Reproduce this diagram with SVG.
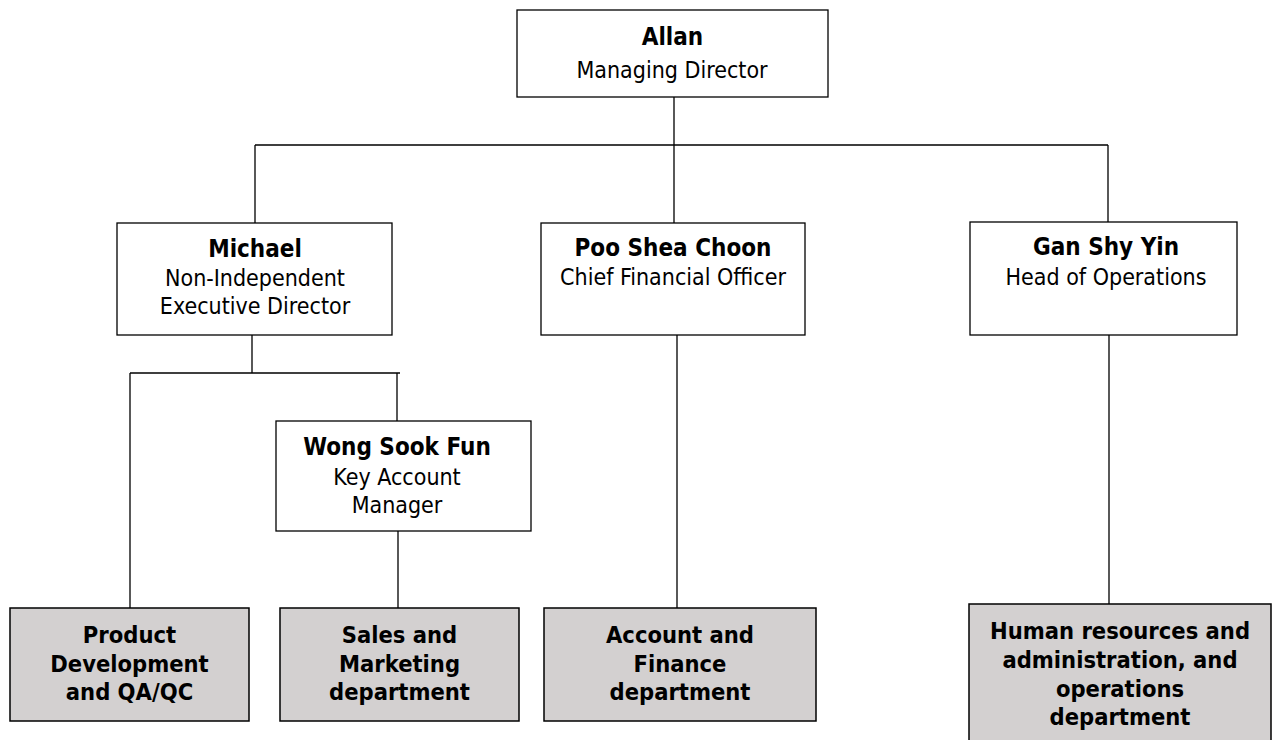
<svg xmlns="http://www.w3.org/2000/svg" width="1272" height="740" viewBox="0 0 1272 740">
<style>
.box{fill:#ffffff;stroke:#000000;stroke-width:1.3}
.dept{fill:#d3d0d0;stroke:#000000;stroke-width:1.5}
.t{font-family:"DejaVu Sans Condensed","DejaVu Sans",sans-serif;font-size:23px;fill:#000;text-anchor:middle}
.b{font-weight:bold;font-size:24px}
.d{font-weight:bold;font-size:23.5px}
.c{fill:none;stroke:#000;stroke-width:1.3}
</style>
<rect width="1272" height="740" fill="#ffffff"/>
<g id="connectors">
<path class="c" d="M674 97V145M255 145H1108M255 145V223M674 145V223M1108 145V222"/>
<path class="c" d="M252 335V373M130 373H400M130 373V608M397 373V421M398 531V608"/>
<path class="c" d="M677 335V608M1109 335V604"/>
</g>
<g id="allan">
<rect class="box" x="517" y="10" width="311" height="87"/>
<text class="t b" x="672.5" y="45">Allan</text>
<text class="t" x="672" y="78">Managing Director</text>
</g>
<g id="michael">
<rect class="box" x="117" y="223" width="275" height="112"/>
<text class="t b" x="255" y="257">Michael</text>
<text class="t" x="255" y="286">Non-Independent</text>
<text class="t" x="255" y="314">Executive Director</text>
</g>
<g id="poo">
<rect class="box" x="541" y="223" width="264" height="112"/>
<text class="t b" x="673" y="256">Poo Shea Choon</text>
<text class="t" x="673" y="285">Chief Financial Officer</text>
</g>
<g id="gan">
<rect class="box" x="970" y="222" width="267" height="113"/>
<text class="t b" x="1106" y="255">Gan Shy Yin</text>
<text class="t" x="1106" y="285">Head of Operations</text>
</g>
<g id="wong">
<rect class="box" x="276" y="421" width="255" height="110"/>
<text class="t b" x="397" y="455">Wong Sook Fun</text>
<text class="t" x="397" y="485">Key Account</text>
<text class="t" x="397" y="513">Manager</text>
</g>
<g id="product">
<rect class="dept" x="10" y="608" width="239" height="113"/>
<text class="t d" x="129.5" y="643">Product</text>
<text class="t d" x="129.5" y="672">Development</text>
<text class="t d" x="129.5" y="700">and QA/QC</text>
</g>
<g id="sales">
<rect class="dept" x="280" y="608" width="239" height="113"/>
<text class="t d" x="399.5" y="643">Sales and</text>
<text class="t d" x="399.5" y="672">Marketing</text>
<text class="t d" x="399.5" y="700">department</text>
</g>
<g id="account">
<rect class="dept" x="544" y="608" width="272" height="113"/>
<text class="t d" x="680" y="643">Account and</text>
<text class="t d" x="680" y="672">Finance</text>
<text class="t d" x="680" y="700">department</text>
</g>
<g id="hr">
<rect class="dept" x="969" y="604" width="302" height="145"/>
<text class="t d" x="1120" y="639">Human resources and</text>
<text class="t d" x="1120" y="668">administration, and</text>
<text class="t d" x="1120" y="697">operations</text>
<text class="t d" x="1120" y="725">department</text>
</g>
</svg>
